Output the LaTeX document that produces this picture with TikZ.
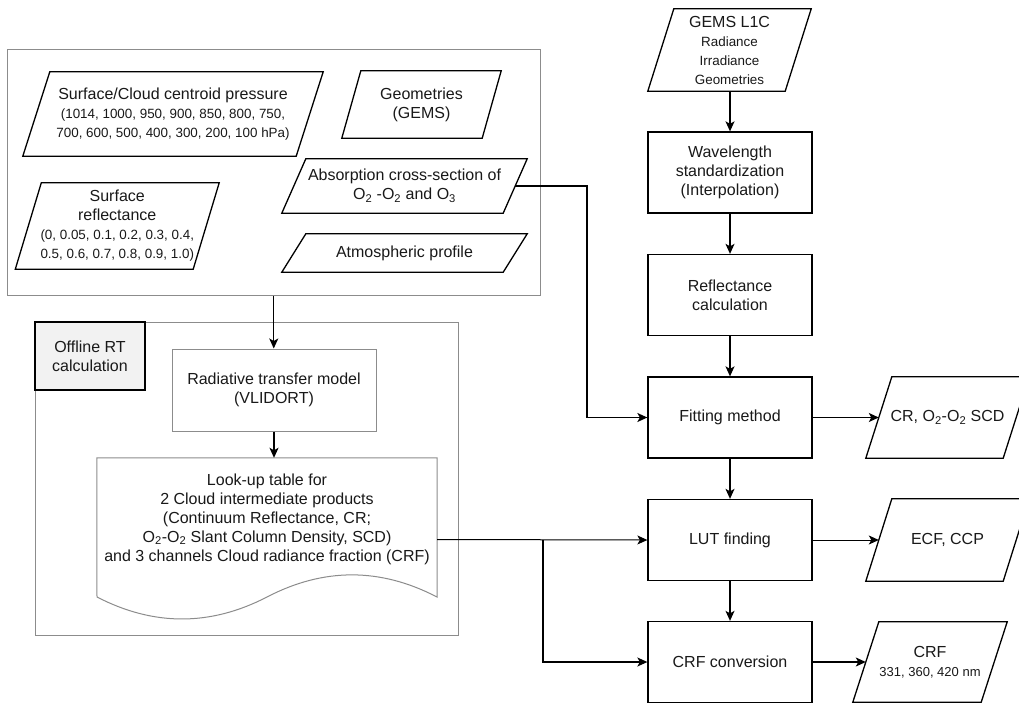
\documentclass[tikz,border=0pt]{standalone}
\usepackage{fontspec}
\setmainfont{Liberation Sans}
\usetikzlibrary{arrows.meta,calc}
\definecolor{boxgray}{RGB}{140,140,140}
\definecolor{lblfill}{RGB}{242,242,242}
\definecolor{txt}{RGB}{25,25,25}
\newcommand{\sm}{\fontsize{13.4}{18.5}\selectfont}
\newcommand{\smg}{\fontsize{13.4}{19.8}\selectfont}
\newcommand{\smr}{\fontsize{13.4}{19.5}\selectfont}
\newcommand{\smc}{\fontsize{13}{21}\selectfont}
\newcommand{\paranode}[7]{%
  \node[paratext, minimum width=#4pt, minimum height=#5pt] (#1) at (#2,#3) {#7};
  \draw[parabord] ([xshift=#6pt]#1.north west) -- (#1.north east) -- ([xshift=-#6pt]#1.south east) -- (#1.south west) -- cycle;}
\tikzset{
  big/.style={font=\fontsize{16}{19}\selectfont, text=txt},
  procbox/.style={draw=black, line width=1.3pt, minimum width=164pt, minimum height=81pt, align=center, inner sep=0pt, big},
  gbox/.style={draw=boxgray, line width=1pt, inner sep=0pt},
  paratext/.style={align=center, inner sep=0pt, big},
  parabord/.style={draw=black, line width=1.3pt, line join=miter},
  arr/.style={line width=1.3pt, -{Stealth[length=10pt,width=9pt,inset=2.5pt]}},
  thinarr/.style={line width=1pt, -{Stealth[length=10pt,width=9pt,inset=2.5pt]}},
}
\begin{document}
\begin{tikzpicture}[x=1pt,y=-1pt]
\useasboundingbox (0,0) rectangle (1019,703);
\fill[white] (0,0) rectangle (1019,703);
\clip (0,0) rectangle (1019,703);

% ---------- left: inputs group ----------
\node[gbox, minimum width=532.5pt, minimum height=245pt] (inputs) at (273.75,172.5) {};
\paranode{surf}{173}{114}{300}{84}{27}{Surface/Cloud centroid pressure\\\sm (1014, 1000, 950, 900, 850, 800, 750,\\\sm 700, 600, 500, 400, 300, 200, 100 hPa)}
\paranode{geom}{421.5}{104.5}{159}{67}{19}{Geometries\\(GEMS)}
\paranode{srefl}{117.25}{226}{203.5}{86}{26}{Surface\\reflectance\\\smr (0, 0.05, 0.1, 0.2, 0.3, 0.4,\\\smr 0.5, 0.6, 0.7, 0.8, 0.9, 1.0)}
\paranode{absx}{404.5}{186}{245}{54}{24}{Absorption cross-section of\\O\textsubscript{2} -O\textsubscript{2} and O\textsubscript{3}}
\paranode{atm}{404.5}{253}{245}{38}{24}{Atmospheric profile}

% ---------- left: offline RT group ----------
\node[gbox, minimum width=423pt, minimum height=313pt] (offline) at (246.5,478.5) {};
\node[draw=black, line width=1.2pt, fill=lblfill, minimum width=110pt, minimum height=68pt, align=center, inner sep=0pt, big] (offlbl) at (90,356) {Offline RT\\calculation};
\node[gbox, minimum width=204pt, minimum height=82pt, align=center, big] (rtm) at (274,390) {Radiative transfer model\\(VLIDORT)};
\node[inner sep=0pt, minimum width=340pt, minimum height=163pt] (lut) at (267,539.5) {};
\draw[draw=boxgray, line width=1pt] (lut.north west) -- (lut.north east) -- (437,597)
  .. controls (380.3,567.5) and (323.7,567.5) .. (267,597)
  .. controls (210.3,626.3) and (153.7,626.3) .. (97,597) -- cycle;
\node[align=center, inner sep=0pt, big] (luttxt) at (267,519) {Look-up table for\\2 Cloud intermediate products\\(Continuum Reflectance, CR;\\O\textsubscript{2}-O\textsubscript{2} Slant Column Density, SCD)\\and 3 channels Cloud radiance fraction (CRF)};

% ---------- right column ----------
\paranode{gems}{729.5}{50}{163}{82}{26}{GEMS L1C\\\smg Radiance\\\smg Irradiance\\\smg Geometries}
\node[procbox] (wl) at (730,172.5) {Wavelength\\standardization\\(Interpolation)};
\node[procbox] (refl) at (730,295) {Reflectance\\calculation};
\node[procbox] (fit) at (730,417.5) {Fitting method};
\node[procbox] (lutf) at (730,540) {LUT finding};
\node[procbox] (crfc) at (730,662) {CRF conversion};

% ---------- outputs ----------
\paranode{cr}{947.5}{417.5}{163}{81}{26}{CR, O\textsubscript{2}-O\textsubscript{2} SCD}
\paranode{ecf}{947.5}{540}{163}{82}{26}{ECF, CCP}
\paranode{crf}{930}{662}{154}{80}{26}{CRF\\\smc 331, 360, 420 nm}

% ---------- connectors ----------
\coordinate (jabs) at (587,300);
\coordinate (jlut) at (543,540);
\draw[arr] (inputs.south) -- (inputs.south |- rtm.north);
\draw[arr] (rtm.south) -- (rtm.south |- lut.north);
\draw[arr] (wl.north |- gems.south) -- (wl.north);
\draw[arr] (wl.south) -- (refl.north);
\draw[arr] (refl.south) -- (fit.north);
\draw[arr] (fit.south) -- (lutf.north);
\draw[arr] (lutf.south) -- (crfc.north);
\draw[arr] ([xshift=-12pt]absx.east) -| (jabs) |- (fit.west);
\draw[thinarr] (lut.east) -- (lutf.west);
\draw[arr] (jlut) |- (crfc.west);
\draw[arr] (fit.east) -- ([xshift=13pt]cr.west);
\draw[thinarr] (lutf.east) -- ([xshift=13pt]ecf.west);
\draw[arr] (crfc.east) -- ([xshift=13pt]crf.west);
\end{tikzpicture}
\end{document}
